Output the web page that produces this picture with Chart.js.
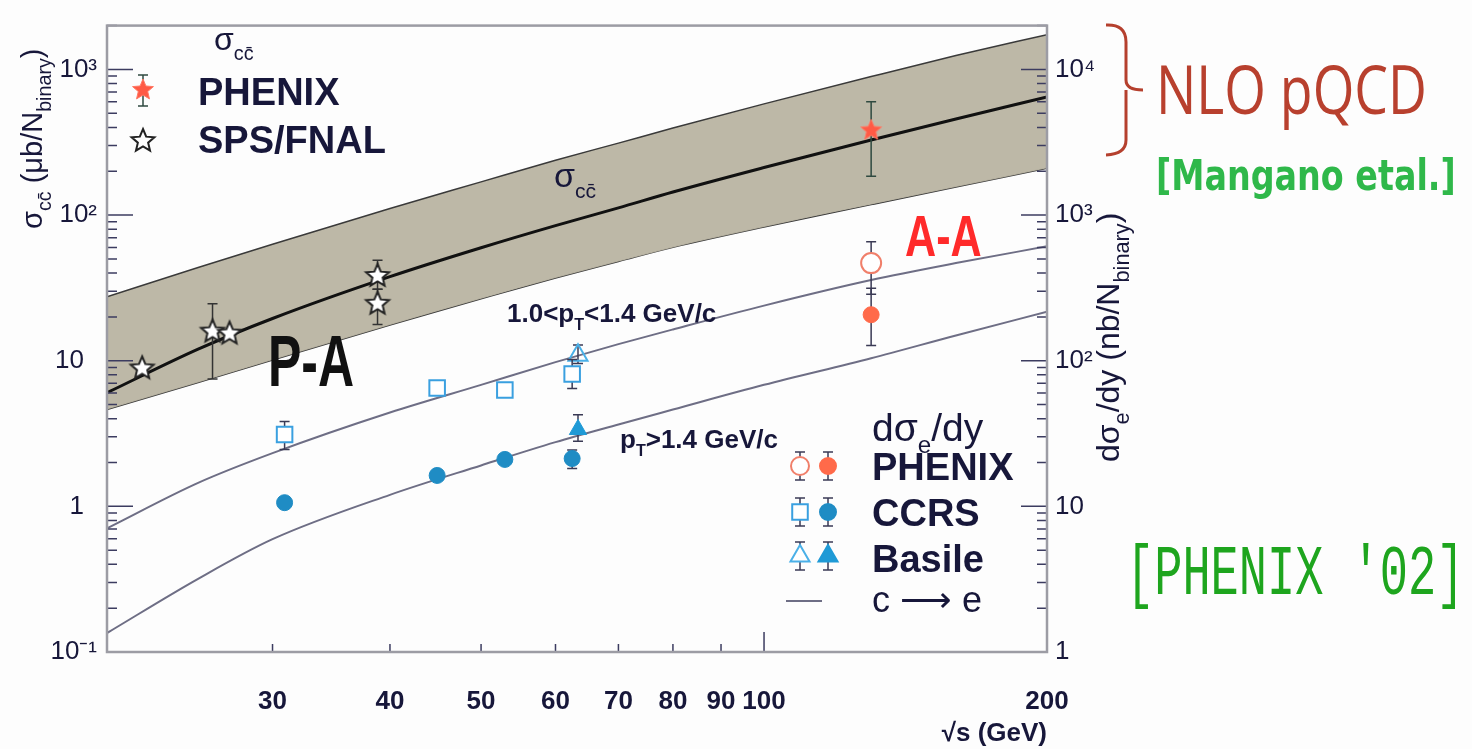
<!DOCTYPE html>
<html>
<head>
<meta charset="utf-8">
<script src="https://cdn.jsdelivr.net/npm/chart.js@4.4.1/dist/chart.umd.min.js"></script>
<style>
  html, body { margin: 0; padding: 0; background: #fdfdfd; }
  #wrap { width: 1472px; height: 749px; position: relative; }
</style>
</head>
<body>
<div id="wrap"><canvas id="chart_charm"></canvas></div>
<script>
/* 축 눈금 */
const xTickVals = [30, 40, 50, 60, 70, 80, 90, 100, 200];
const xTickLabels = ['30', '40', '50', '60', '70', '80', '90', '100', '200'];
const yTickVals = [0.1, 1, 10, 100, 1000];
const yTickLabels = ['10⁻¹', '1\u2002', '10\u2002', '10²', '10³'];
const y2TickVals = [1, 10, 100, 1000, 10000];
const y2TickLabels = ['1', '10', '10²', '10³', '10⁴'];

/* NLO pQCD 밴드 (ub/N_binary, left axis) */
const curveS = [20, 25, 30, 40, 50, 60, 70, 80, 100, 130, 160, 200];
const bandHigh = [27.5, 43.6, 63.0, 111, 169, 238, 312, 396, 580, 893, 1245, 1734];
const bandCentral = [6.03, 12.0, 19.5, 37.8, 59.7, 84.7, 112, 144, 212, 328, 457, 647];
const bandLow = [4.62, 7.08, 10.1, 17.6, 26.6, 37.0, 48.0, 60.0, 82.8, 118, 156, 210];

/* c -> e 곡선 (nb/N_binary, right axis) */
const ceLowPt = [7.07, 14.5, 23.2, 44.1, 68.3, 97.8, 130, 164, 239, 358, 468, 610];
const ceHighPt = [1.35, 3.18, 5.95, 12.0, 19.1, 27.6, 36.5, 46.2, 68.3, 104, 149, 217];

/* sigma_cc 데이터 */
const spsS = [21.8, 25.9, 27.0, 38.8, 38.8];
const spsVal = [9.0, 16.1, 15.6, 38.8, 25.0];
const spsErr = [null, [7.5, 24.6], null, [31, 49], [17.7, 31]];
const phxCcS = [130];
const phxCcVal = [388];
const phxCcErr = [[185, 600]];

/* d sigma_e / dy 데이터 (nb) */
const ccrsOpenS = [30.9, 44.9, 53.0, 62.5];
const ccrsOpenVal = [31.1, 65, 63, 81];
const ccrsOpenErr = [[24.6, 38.2], null, null, [64.5, 102]];
const basileOpenS = [63.4];
const basileOpenVal = [109];
const basileOpenErr = [[95.7, 128]];
const ccrsFullS = [30.9, 44.9, 53.0, 62.5];
const ccrsFullVal = [10.6, 16.3, 21.0, 21.3];
const ccrsFullErr = [null, null, null, [18.2, 24.4]];
const basileFullS = [63.4];
const basileFullVal = [33.7];
const basileFullErr = [[28, 42.6]];
const phxOpenS = [130];
const phxOpenVal = [468];
const phxOpenErr = [[286, 655]];
const phxFullS = [130];
const phxFullVal = [207];
const phxFullErr = [[127, 314]];

const textColor = '#17173a';
const sans = "'Liberation Sans', Arial, sans-serif";

function pts(xs, ys) {
  return xs.map((x, i) => ({ x: x, y: ys[i] }));
}

function makeStar(r, fill, stroke, lw) {
  const c = document.createElement('canvas');
  const s = Math.ceil(2 * r + 2 * lw + 2);
  c.width = s; c.height = s;
  const g = c.getContext('2d');
  g.beginPath();
  for (let i = 0; i < 10; i++) {
    const rr = i % 2 ? r * 0.45 : r;
    const a = -Math.PI / 2 + i * Math.PI / 5;
    g.lineTo(s / 2 + rr * Math.cos(a), s / 2 + 1 + rr * Math.sin(a));
  }
  g.closePath();
  g.fillStyle = fill; g.fill();
  g.lineWidth = lw; g.strokeStyle = stroke; g.stroke();
  return c;
}
const openStar = makeStar(12, '#ffffff', '#222222', 2);
const redStar = makeStar(11, '#ff5a45', '#ff7a66', 1);

// 아래첨자/위첨자 텍스트
function rich(ctx, parts, x, y, size, opt) {
  opt = opt || {};
  const weight = opt.weight || 'normal';
  const fam = opt.family || sans;
  const sub = opt.sub || 0.62;
  ctx.save();
  ctx.translate(x, y);
  if (opt.rot) ctx.rotate(opt.rot);
  ctx.fillStyle = opt.color || textColor;
  ctx.textBaseline = 'alphabetic';
  ctx.textAlign = 'left';
  let cx = 0;
  parts.forEach(p => {
    const s = p[1] ? size * sub : size;
    ctx.font = weight + ' ' + s + 'px ' + fam;
    const dy = p[1] === 1 ? size * 0.32 : p[1] === 2 ? -size * 0.45 : 0;
    ctx.fillText(p[0], cx, dy);
    cx += ctx.measureText(p[0]).width;
  });
  ctx.restore();
}

function errBar(ctx, x, y1, y2, cap) {
  ctx.beginPath();
  ctx.moveTo(x, y1); ctx.lineTo(x, y2);
  ctx.moveTo(x - cap, y1); ctx.lineTo(x + cap, y1);
  ctx.moveTo(x - cap, y2); ctx.lineTo(x + cap, y2);
  ctx.stroke();
}

const decoPlugin = {
  id: 'deco',
  beforeDatasetDraw(chart, args) {
    const ds = chart.data.datasets[args.index];
    if (!ds.errorBars) return;
    const ctx = chart.ctx;
    const xs = chart.scales.x, ys = chart.scales[ds.yAxisID || 'y'];
    ctx.save();
    ctx.strokeStyle = ds.errorColor || '#3a3a55';
    ctx.lineWidth = 1.5;
    ds.data.forEach((d, i) => {
      const e = ds.errorBars[i];
      if (!e) return;
      errBar(ctx, xs.getPixelForValue(d.x), ys.getPixelForValue(e[0]), ys.getPixelForValue(e[1]), 5);
    });
    ctx.restore();
  },
  afterDraw(chart) {
    const ctx = chart.ctx;
    const a = chart.chartArea;
    const xs = chart.scales.x, ys = chart.scales.y, y2s = chart.scales.y2;
    ctx.save();
    // 안쪽 눈금
    ctx.strokeStyle = '#3c3c60';
    ctx.lineWidth = 1.5;
    ctx.beginPath();
    xTickVals.forEach(v => {
      const p = xs.getPixelForValue(v);
      const len = v === 100 ? 20 : 8;
      ctx.moveTo(p, a.bottom); ctx.lineTo(p, a.bottom - len);
    });
    [[ys, a.left, 1], [y2s, a.right, -1]].forEach(([sc, x0, dir]) => {
      for (let e = Math.floor(Math.log10(sc.min)); e <= Math.ceil(Math.log10(sc.max)); e++) {
        for (let k = 1; k <= 9; k++) {
          const v = k * Math.pow(10, e);
          if (v < sc.min * 0.999 || v > sc.max * 1.001) continue;
          const p = sc.getPixelForValue(v);
          const len = k === 1 ? 26 : 10;
          ctx.moveTo(x0, p); ctx.lineTo(x0 + dir * len, p);
        }
      }
    });
    ctx.stroke();
    // 테두리
    ctx.strokeStyle = '#9c9ca4';
    ctx.lineWidth = 2.5;
    ctx.strokeRect(a.left, a.top, a.right - a.left, a.bottom - a.top);

    // 축 제목
    rich(ctx, [['σ', 0], ['cc\u0304', 1], [' (μb/N', 0], ['binary', 1], [')', 0]], 42, 229, 29, { rot: -Math.PI / 2, sub: 0.68 });
    rich(ctx, [['dσ', 0], ['e', 1], ['/dy (nb/N', 0], ['binary', 1], [')', 0]], 1119, 462, 32, { rot: -Math.PI / 2, sub: 0.68 });

    // 왼쪽 위 범례
    rich(ctx, [['σ', 0], ['cc\u0304', 1]], 214, 50, 32);
    ctx.strokeStyle = '#2f4a40'; ctx.lineWidth = 1.5;
    errBar(ctx, 143, 75, 106, 5);
    ctx.drawImage(redStar, 143 - redStar.width / 2, 89 - redStar.height / 2);
    ctx.drawImage(openStar, 143 - openStar.width / 2, 140 - openStar.height / 2);
    rich(ctx, [['PHENIX', 0]], 198, 105, 38, { weight: 'bold' });
    rich(ctx, [['SPS/FNAL', 0]], 198, 153, 38, { weight: 'bold' });

    // 곡선 주석
    rich(ctx, [['σ', 0], ['cc\u0304', 1]], 554, 187, 34);
    rich(ctx, [['1.0<p', 0], ['T', 1], ['<1.4 GeV/c', 0]], 507, 322, 26, { weight: 'bold' });
    rich(ctx, [['p', 0], ['T', 1], ['>1.4 GeV/c', 0]], 620, 448, 26, { weight: 'bold' });

    // 오른쪽 아래 범례
    rich(ctx, [['dσ', 0], ['e', 1], ['/dy', 0]], 872, 441, 39);
    rich(ctx, [['PHENIX', 0]], 872, 480, 38, { weight: 'bold' });
    rich(ctx, [['CCRS', 0]], 872, 526, 38, { weight: 'bold' });
    rich(ctx, [['Basile', 0]], 872, 572, 38, { weight: 'bold' });
    rich(ctx, [['c \u27F6 e', 0]], 872, 612, 36);
    ctx.strokeStyle = '#3a3a55'; ctx.lineWidth = 1.5;
    [466, 512, 556].forEach(yy => { errBar(ctx, 800, yy - 14, yy + 14, 5); errBar(ctx, 828, yy - 14, yy + 14, 5); });
    const dp = Chart.helpers.drawPoint;
    ctx.lineWidth = 2;
    ctx.fillStyle = '#ffffff'; ctx.strokeStyle = '#f07f6a';
    dp(ctx, { pointStyle: 'circle', radius: 9, borderWidth: 2 }, 800, 466);
    ctx.fillStyle = '#ff6a4a'; ctx.strokeStyle = '#ff6a4a';
    dp(ctx, { pointStyle: 'circle', radius: 8, borderWidth: 1 }, 828, 466);
    ctx.fillStyle = '#ffffff'; ctx.strokeStyle = '#3aa0e0';
    dp(ctx, { pointStyle: 'rect', radius: 11, borderWidth: 2 }, 800, 512);
    ctx.fillStyle = '#1f8cc4'; ctx.strokeStyle = '#1f8cc4';
    dp(ctx, { pointStyle: 'circle', radius: 8, borderWidth: 1 }, 828, 512);
    ctx.fillStyle = '#ffffff'; ctx.strokeStyle = '#4ab0e8';
    dp(ctx, { pointStyle: 'triangle', radius: 11, borderWidth: 2 }, 800, 556);
    ctx.fillStyle = '#1f9ad6'; ctx.strokeStyle = '#1f9ad6';
    dp(ctx, { pointStyle: 'triangle', radius: 11, borderWidth: 1 }, 828, 556);
    ctx.strokeStyle = '#6e6e85'; ctx.lineWidth = 2;
    ctx.beginPath(); ctx.moveTo(786, 601); ctx.lineTo(822, 601); ctx.stroke();

    // 손글씨 주석
    ctx.save();
    ctx.translate(268, 386); ctx.scale(1.0, 1.45);
    ctx.font = 'bold 50px ' + sans; ctx.fillStyle = '#111111';
    ctx.fillText('P-A', 0, 0);
    ctx.restore();
    ctx.save();
    ctx.translate(905, 256); ctx.scale(0.98, 1.3);
    ctx.font = 'bold 44px ' + sans; ctx.fillStyle = '#ff2a2a';
    ctx.fillText('A-A', 0, 0);
    ctx.restore();

    ctx.strokeStyle = '#b5402e'; ctx.lineWidth = 3;
    ctx.beginPath();
    ctx.moveTo(1106, 25);
    ctx.quadraticCurveTo(1126, 24, 1126, 42);
    ctx.lineTo(1126, 80);
    ctx.quadraticCurveTo(1126, 90, 1143, 90);
    ctx.moveTo(1126, 90);
    ctx.lineTo(1126, 140);
    ctx.quadraticCurveTo(1126, 154, 1106, 155);
    ctx.stroke();

    ctx.save();
    ctx.translate(1156, 114); ctx.scale(1.03, 1.3);
    ctx.font = "normal 52px 'Open Sans', sans-serif"; ctx.fillStyle = '#b8402e';
    ctx.fillText('NLO pQCD', 0, 0);
    ctx.restore();
    ctx.save();
    ctx.translate(1156, 190); ctx.scale(1.15, 1.45);
    ctx.font = "bold 29px 'DejaVu Sans', sans-serif"; ctx.fillStyle = '#2fb84a';
    ctx.fillText('[Mangano etal.]', 0, 0);
    ctx.restore();
    ctx.save();
    ctx.translate(1126, 594); ctx.scale(1, 1.5);
    ctx.font = "normal 47px 'Liberation Mono', monospace"; ctx.fillStyle = '#1ea51e';
    ctx.fillText("[PHENIX '02]", 0, 0);
    ctx.restore();
    ctx.restore();
  }
};

const ctx_charm = document.getElementById('chart_charm');

const config_charm = {
  type: 'scatter',
  data: {
    datasets: [{
      label: 'NLO upper',
      data: pts(curveS, bandHigh),
      showLine: true, pointRadius: 0,
      borderColor: '#3a3a3a', borderWidth: 1.5,
      backgroundColor: 'rgba(185, 180, 162, 0.95)',
      fill: '+1',
      cubicInterpolationMode: 'monotone',
      order: 10
    }, {
      label: 'NLO lower',
      data: pts(curveS, bandLow),
      showLine: true, pointRadius: 0,
      borderColor: '#3a3a3a', borderWidth: 1.5,
      cubicInterpolationMode: 'monotone',
      order: 10
    }, {
      label: 'NLO central',
      data: pts(curveS, bandCentral),
      showLine: true, pointRadius: 0,
      borderColor: '#111111', borderWidth: 3,
      cubicInterpolationMode: 'monotone',
      order: 9
    }, {
      label: 'c->e 1.0<pT<1.4',
      data: pts(curveS, ceLowPt),
      yAxisID: 'y2',
      showLine: true, pointRadius: 0,
      borderColor: '#6e6e85', borderWidth: 2,
      cubicInterpolationMode: 'monotone',
      order: 8
    }, {
      label: 'c->e pT>1.4',
      data: pts(curveS, ceHighPt),
      yAxisID: 'y2',
      showLine: true, pointRadius: 0,
      borderColor: '#6e6e85', borderWidth: 2,
      cubicInterpolationMode: 'monotone',
      order: 8
    }, {
      label: 'SPS/FNAL',
      data: pts(spsS, spsVal),
      errorBars: spsErr, errorColor: '#333333',
      pointStyle: openStar,
      order: 1
    }, {
      label: 'PHENIX sigma_cc',
      data: pts(phxCcS, phxCcVal),
      errorBars: phxCcErr, errorColor: '#2f4a40',
      pointStyle: redStar,
      order: 1
    }, {
      label: 'CCRS 1.0<pT<1.4',
      data: pts(ccrsOpenS, ccrsOpenVal),
      yAxisID: 'y2', errorBars: ccrsOpenErr,
      pointStyle: 'rect', pointRadius: 11, borderWidth: 2,
      borderColor: '#3aa0e0', backgroundColor: '#ffffff',
      order: 1
    }, {
      label: 'Basile 1.0<pT<1.4',
      data: pts(basileOpenS, basileOpenVal),
      yAxisID: 'y2', errorBars: basileOpenErr,
      pointStyle: 'triangle', pointRadius: 11, borderWidth: 2,
      borderColor: '#4ab0e8', backgroundColor: 'rgba(255,255,255,0)',
      order: 1
    }, {
      label: 'CCRS pT>1.4',
      data: pts(ccrsFullS, ccrsFullVal),
      yAxisID: 'y2', errorBars: ccrsFullErr,
      pointStyle: 'circle', pointRadius: 8, borderWidth: 1,
      borderColor: '#1f8cc4', backgroundColor: '#1f8cc4',
      order: 1
    }, {
      label: 'Basile pT>1.4',
      data: pts(basileFullS, basileFullVal),
      yAxisID: 'y2', errorBars: basileFullErr,
      pointStyle: 'triangle', pointRadius: 10, borderWidth: 1,
      borderColor: '#1f9ad6', backgroundColor: '#1f9ad6',
      order: 1
    }, {
      label: 'PHENIX e 1.0<pT<1.4',
      data: pts(phxOpenS, phxOpenVal),
      yAxisID: 'y2', errorBars: phxOpenErr,
      pointStyle: 'circle', pointRadius: 10, borderWidth: 2,
      borderColor: '#f07f6a', backgroundColor: '#ffffff',
      order: 1
    }, {
      label: 'PHENIX e pT>1.4',
      data: pts(phxFullS, phxFullVal),
      yAxisID: 'y2', errorBars: phxFullErr,
      pointStyle: 'circle', pointRadius: 8, borderWidth: 1,
      borderColor: '#ff6a4a', backgroundColor: '#ff6a4a',
      order: 1
    }]
  },
  options: {
    responsive: true,
    maintainAspectRatio: false,
    animation: false,
    layout: { padding: { top: 19, right: 330, left: 0, bottom: 0 } },
    plugins: { legend: { display: false }, tooltip: { enabled: false } },
    scales: {
      x: {
        type: 'logarithmic', position: 'bottom', min: 20, max: 200,
        grid: { display: false, drawTicks: false },
        border: { display: false },
        afterBuildTicks: (sc) => { sc.ticks = xTickVals.map(v => ({ value: v })); },
        afterFit: (sc) => { sc.height = 97; },
        ticks: {
          autoSkip: false, maxRotation: 0, minRotation: 0, padding: 34,
          color: textColor, font: { family: sans, size: 26, weight: 'bold' },
          callback: (v, i) => xTickLabels[i]
        },
        title: {
          display: true, text: '√s (GeV)', align: 'end', color: textColor,
          font: { family: sans, size: 26, weight: 'bold' }, padding: { top: 0, bottom: 0 }
        }
      },
      y: {
        type: 'logarithmic', position: 'left', min: 0.1, max: 2000,
        grid: { display: false, drawTicks: false },
        border: { display: false },
        afterBuildTicks: (sc) => { sc.ticks = yTickVals.map(v => ({ value: v })); },
        afterFit: (sc) => { sc.width = 107; },
        ticks: {
          padding: 10, color: textColor, font: { family: sans, size: 26 },
          callback: (v, i) => yTickLabels[i]
        }
      },
      y2: {
        type: 'logarithmic', position: 'right', min: 1, max: 20000,
        grid: { display: false, drawTicks: false },
        border: { display: false },
        afterBuildTicks: (sc) => { sc.ticks = y2TickVals.map(v => ({ value: v })); },
        afterFit: (sc) => { sc.width = 95; },
        ticks: {
          padding: 8, color: textColor, font: { family: sans, size: 26 },
          callback: (v, i) => y2TickLabels[i]
        }
      }
    }
  },
  plugins: [decoPlugin]
};

var chart_charm = new Chart(ctx_charm, config_charm);
</script>
</body>
</html>
